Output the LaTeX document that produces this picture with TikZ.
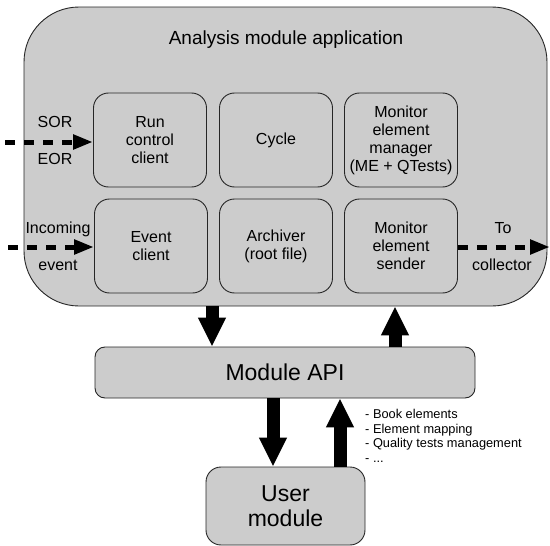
\documentclass[tikz,border=0pt]{standalone}
\usepackage{fontspec}
\setmainfont{Liberation Sans}
\usetikzlibrary{arrows.meta}
\definecolor{boxgray}{RGB}{204,204,204}

\begin{document}
\begin{tikzpicture}[x=1pt,y=-1pt,
  part/.style={draw=black!85,line width=0.9pt,fill=boxgray,rounded corners=15pt,minimum width=113pt,minimum height=94pt,align=center,inner sep=2pt,font=\fontsize{16}{18}\selectfont},
  fat/.style={line width=13pt,-{Triangle[width=26pt,length=29pt]}},
  feed/.style={line width=5pt,dash pattern=on 10pt off 9pt,-{Triangle[width=14pt,length=20pt]}},
  lbl/.style={font=\fontsize{16}{18}\selectfont}]
\useasboundingbox (0,0) rectangle (550,546);
\node[draw=black!85,line width=0.9pt,fill=boxgray,rounded corners=55pt,minimum width=523pt,minimum height=299pt] (app) at (285.5,156.5) {};
\node[font=\fontsize{19}{22}\selectfont] (title) at (286,40) {Analysis module application};
% inner parts
\node[part] (rc) at (150,140) {Run\\control\\client};
\node[part] (cyc) at (276,140) {Cycle};
\node[part] (mem) at (401,140) {Monitor\\element\\manager\\(ME + QTests)};
\node[part] (ev) at (151,246) {Event\\client};
\node[part] (arch) at (276,246) {Archiver\\(root file)};
\node[part] (mes) at (401,246) {Monitor\\element\\sender};
% api and user
\node[draw=black!85,line width=0.9pt,fill=boxgray,rounded corners=10pt,minimum width=380pt,minimum height=51pt,font=\fontsize{23}{26}\selectfont] (api) at (285,372.5) {Module API};
\node[draw=black!85,line width=0.9pt,fill=boxgray,rounded corners=15pt,minimum width=159pt,minimum height=78pt,align=center,font=\fontsize{23}{25}\selectfont] (user) at (285.5,506) {User\\module};
\node[anchor=west,inner sep=0pt,align=left,font=\fontsize{12.8}{14.7}\selectfont] (calls) at (365,436) {- Book elements\\- Element mapping\\- Quality tests management\\- ...};
% block arrows
\coordinate (d1) at (212,0);\coordinate (u1) at (395,0);
\coordinate (d2) at (273,0);\coordinate (u2) at (340,0);
\draw[fat] (app.south -| d1) -- (api.north -| d1);
\draw[fat] (api.north -| u1) -- (app.south -| u1);
\draw[fat] (api.south -| d2) -- (user.north -| d2);
\draw[fat] (user.north -| u2) -- (api.south -| u2);
% dashed feeds
\coordinate (sorin) at (5,142);\coordinate (evin) at (8,247);\coordinate (out) at (550,247);
\draw[feed] (sorin) -- (rc.west |- sorin);
\draw[feed] (evin) -- (ev.west |- evin);
\draw[feed] (mes.east |- out) -- (out);
\node[lbl] (sor) at (55,122) {SOR};\node[lbl] (eor) at (55,159) {EOR};
\node[lbl] (inc) at (58,229) {Incoming};\node[lbl] (evt) at (58,265) {event};
\node[lbl] (to) at (503,228) {To};\node[lbl] (coll) at (502,265) {collector};
\end{tikzpicture}
\end{document}
